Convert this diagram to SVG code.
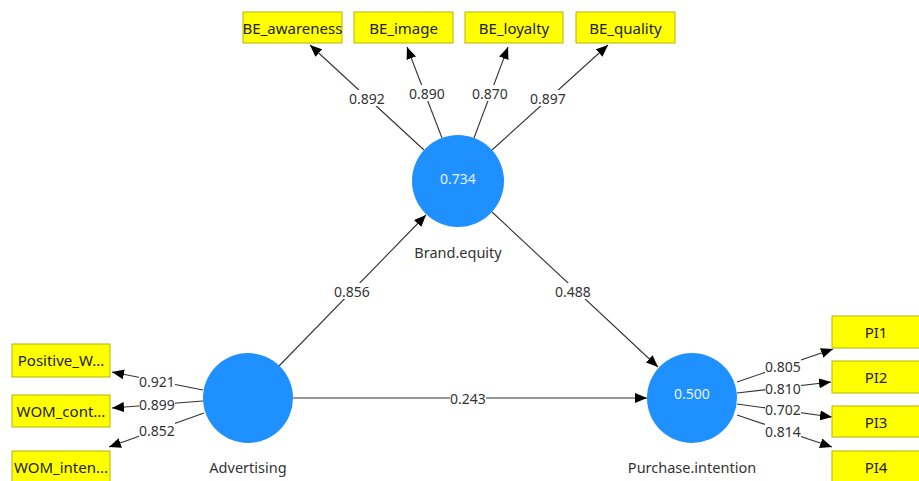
<svg xmlns="http://www.w3.org/2000/svg" width="919" height="481" viewBox="0 0 919 481">
<style>
.bg{fill:#ffffff}
.ind rect{fill:#ffff00;stroke:#b5b500;stroke-width:1}
.ind text{font-family:"Noto Sans","Open Sans","Liberation Sans",sans-serif;font-size:15px;fill:#222;text-anchor:middle;dominant-baseline:central}
.lv circle{fill:#1e90ff}
.lv .val{font-family:"Noto Sans","Open Sans","Liberation Sans",sans-serif;font-size:14px;fill:#e6f2ff;text-anchor:middle;dominant-baseline:central}
.lv .name{font-family:"Noto Sans","Open Sans","Liberation Sans",sans-serif;font-size:14.5px;fill:#333;text-anchor:middle;dominant-baseline:central}
.edge line{stroke:#333;stroke-width:1.1;marker-end:url(#arr)}
.lbl rect{fill:#ffffff}
.lbl text{font-family:"Noto Sans","Open Sans","Liberation Sans",sans-serif;font-size:14px;fill:#333;text-anchor:middle;dominant-baseline:central}
</style>
<defs>
<marker id="arr" markerUnits="userSpaceOnUse" markerWidth="12" markerHeight="10" refX="12" refY="5" orient="auto">
<path d="M0,0 L12,5 L0,10 z" fill="#000"/>
</marker>
</defs>
<rect class="bg" x="0" y="0" width="919" height="481"/>

<g id="connectors">
<g class="edge">
<line x1="424" y1="150" x2="310" y2="45"/>
<line x1="442" y1="138" x2="407" y2="47"/>
<line x1="474" y1="138" x2="508" y2="47"/>
<line x1="492" y1="150" x2="608" y2="45"/>
<line x1="279" y1="366" x2="426" y2="215"/>
<line x1="492" y1="212" x2="658" y2="367"/>
<line x1="293" y1="398" x2="647" y2="398"/>
<line x1="203" y1="390" x2="112" y2="372"/>
<line x1="203" y1="401" x2="112" y2="408"/>
<line x1="204" y1="413" x2="109" y2="447"/>
<line x1="737" y1="382" x2="833" y2="349"/>
<line x1="737" y1="393" x2="831" y2="382"/>
<line x1="737" y1="404" x2="832" y2="417"/>
<line x1="737" y1="415" x2="832" y2="447"/>
</g>
<g class="lbl">
<rect x="349" y="90" width="36" height="16"/><text x="367" y="98">0.892</text>
<rect x="409" y="85" width="36" height="16"/><text x="427" y="93">0.890</text>
<rect x="472" y="85" width="36" height="16"/><text x="490" y="93">0.870</text>
<rect x="530" y="90" width="36" height="16"/><text x="548" y="98">0.897</text>
<rect x="334" y="283" width="36" height="16"/><text x="352" y="291">0.856</text>
<rect x="555" y="283" width="36" height="16"/><text x="573" y="291">0.488</text>
<rect x="450" y="390" width="36" height="16"/><text x="468" y="398">0.243</text>
<rect x="139" y="374" width="36" height="15"/><text x="157" y="381">0.921</text>
<rect x="139" y="397" width="36" height="15"/><text x="157" y="404">0.899</text>
<rect x="139" y="422" width="36" height="15"/><text x="157" y="430">0.852</text>
<rect x="765" y="359" width="36" height="15"/><text x="783" y="366">0.805</text>
<rect x="765" y="381" width="36" height="15"/><text x="783" y="388">0.810</text>
<rect x="765" y="402" width="36" height="15"/><text x="783" y="409">0.702</text>
<rect x="765" y="424" width="36" height="15"/><text x="783" y="431">0.814</text>
</g>
</g>

<g id="BE_awareness" class="ind"><rect x="243" y="12" width="99" height="31"/><text x="292.5" y="28">BE_awareness</text></g>
<g id="BE_image" class="ind"><rect x="354" y="12" width="99" height="31"/><text x="403.5" y="28">BE_image</text></g>
<g id="BE_loyalty" class="ind"><rect x="465" y="12" width="98" height="31"/><text x="514" y="28">BE_loyalty</text></g>
<g id="BE_quality" class="ind"><rect x="576" y="12" width="99" height="31"/><text x="625.5" y="28">BE_quality</text></g>

<g id="Positive_WOM" class="ind"><rect x="12" y="344" width="98" height="33"/><text x="61" y="360">Positive_W...</text></g>
<g id="WOM_content" class="ind"><rect x="12" y="395" width="98" height="32"/><text x="61" y="411">WOM_cont...</text></g>
<g id="WOM_intensity" class="ind"><rect x="12" y="451" width="98" height="35"/><text x="61" y="467">WOM_inten...</text></g>

<g id="PI1" class="ind"><rect x="832" y="316" width="90" height="32"/><text x="876" y="332">PI1</text></g>
<g id="PI2" class="ind"><rect x="832" y="361" width="90" height="32"/><text x="876" y="377">PI2</text></g>
<g id="PI3" class="ind"><rect x="832" y="406" width="90" height="31"/><text x="876" y="422">PI3</text></g>
<g id="PI4" class="ind"><rect x="832" y="451" width="90" height="35"/><text x="876" y="467">PI4</text></g>

<g id="Brand_equity" class="lv"><circle cx="458" cy="181" r="46"/><text class="val" x="458" y="178">0.734</text><text class="name" x="458" y="252">Brand.equity</text></g>
<g id="Advertising" class="lv"><circle cx="248" cy="398" r="45"/><text class="name" x="248" y="467">Advertising</text></g>
<g id="Purchase_intention" class="lv"><circle cx="692" cy="398" r="45"/><text class="val" x="692" y="393">0.500</text><text class="name" x="692" y="467">Purchase.intention</text></g>
</svg>
